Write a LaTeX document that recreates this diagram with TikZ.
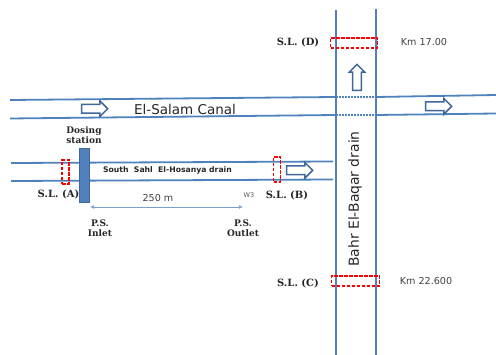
\documentclass[tikz,border=0pt]{standalone}
\usepackage{fontspec}
\setmainfont{DejaVu Sans}
\newfontfamily\lblfont{DejaVu Serif}
\usetikzlibrary{shapes.arrows,arrows.meta}
\definecolor{waterline}{HTML}{4F81BD}
\definecolor{arrowline}{HTML}{3F679A}
\definecolor{txtgrey}{HTML}{404040}
\tikzset{
  water/.style={draw=waterline,line width=1.8pt},
  gap/.style={draw=waterline,line width=1.5pt,dash pattern=on 1.5pt off 1.5pt},
  sample/.style={draw=red,line width=1.6pt,dash pattern=on 3.5pt off 1.5pt},
  flow/.style={single arrow,draw=arrowline,fill=white,line width=1.5pt,inner sep=3.6pt,
    minimum height=26pt,single arrow head extend=3.5pt,
    single arrow tip angle=90,anchor=center},
  sl/.style={font=\lblfont\bfseries\fontsize{10}{11}\selectfont,text=black!85,inner sep=0pt,align=center},
  ps/.style={font=\lblfont\bfseries\fontsize{9}{10.5}\selectfont,text=black!85,inner sep=0pt,align=center},
  km/.style={font=\fontsize{9.6}{10}\selectfont,text=txtgrey,inner sep=0pt}
}
\begin{document}
\begin{tikzpicture}[x=1pt,y=-1pt]
\useasboundingbox (0,0) rectangle (496,355);
% canal
\coordinate (cla) at (10,100); \coordinate (clb) at (336,97);
\coordinate (cra) at (376,97); \coordinate (crb) at (496,95);
\coordinate (dla) at (10,118.5); \coordinate (dlb) at (336,115);
\coordinate (dra) at (376,115); \coordinate (drb) at (496,113.5);
\draw[water] (cla) -- (clb);
\draw[water] (cra) -- (crb);
\draw[water] (dla) -- (dlb);
\draw[water] (dra) -- (drb);
\draw[gap] (clb) -- (cra);
\draw[gap] (dlb) -- (dra);
% south sahl drain
\coordinate (sa) at (11,163); \coordinate (sb) at (333,161.5);
\coordinate (sc) at (11,181); \coordinate (sd) at (333,179.5);
\draw[water] (sa) -- (sb);
\draw[water] (sc) -- (sd);
% bahr drain
\coordinate (ba) at (336,10); \coordinate (bb) at (336,355);
\coordinate (bc) at (376,9); \coordinate (bd) at (376,355);
\draw[water] (ba) -- (bb);
\draw[water] (bc) -- (bd);
% dosing block
\node[draw=arrowline,fill=waterline,line width=1pt,minimum width=10.5pt,minimum height=54pt,inner sep=0pt] (dose) at (84.5,176) {};
% sampling boxes
\node[sample,minimum width=47pt,minimum height=10pt,inner sep=0pt] (sld) at (354,43) {};
\node[sample,minimum width=48pt,minimum height=10pt,inner sep=0pt] (slc) at (355.5,281) {};
\node[sample,minimum width=7pt,minimum height=24pt,inner sep=0pt] (sla) at (65.5,172) {};
\node[sample,minimum width=7pt,minimum height=25pt,inner sep=0pt] (slb) at (277,169.5) {};
% flow arrows
\node[flow] (f1) at (92.5,108.7) {};
\node[flow] (f2) at (297.5,170.3) {};
\node[flow] (f3) at (436.5,106.3) {};
\node[flow,rotate=90] (f4) at (357,79.5) {};
% distance
\coordinate (da) at (90,207); \coordinate (db) at (243,207);
\draw[draw=waterline!75,line width=0.9pt,{Latex[length=4pt,width=4pt]}-{Latex[length=4pt,width=4pt]}] (da) -- (db);
% texts
\node[inner sep=0pt,font=\fontsize{13.5}{15}\selectfont,text=black!85] (canal) at (185,109) {El-Salam Canal};
\node[inner sep=0pt,font=\fontsize{13.9}{15}\selectfont,text=black!85,rotate=90] (bahr) at (355,199) {Bahr El-Baqar drain};
\node[inner sep=0pt,font=\bfseries\fontsize{7.7}{9}\selectfont,text=black!85] (south) at (167.5,170.5) {South\ \ Sahl\ \ El-Hosanya drain};
\node[ps] (dosing) at (84,135) {Dosing\\station};
\node[sl] (tla) at (58.5,194) {S.L. (A)};
\node[sl] (tlb) at (287,195) {S.L. (B)};
\node[sl] (tlc) at (298,283) {S.L. (C)};
\node[sl] (tld) at (298,42) {S.L. (D)};
\node[ps] (inlet) at (100,228) {P.S.\\Inlet};
\node[ps] (outlet) at (243,228) {P.S.\\Outlet};
\node[km] (d250) at (158,198) {250 m};
\node[inner sep=0pt,font=\fontsize{6.5}{8}\selectfont,text=black!65] (w3) at (249,195.5) {W3};
\node[km] (k17) at (424,42) {Km 17.00};
\node[km] (k22) at (426,281) {Km 22.600};
\end{tikzpicture}
\end{document}
